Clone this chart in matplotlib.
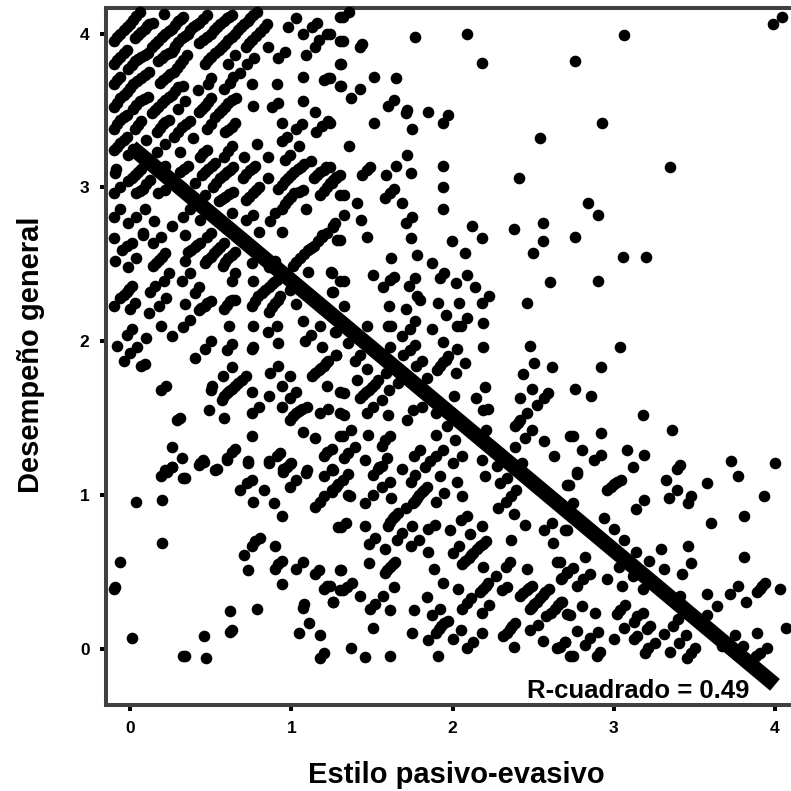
import matplotlib
matplotlib.use("Agg")
import matplotlib.pyplot as plt

pts_top_left = [(-.10,3.95),(-.06,4.00),(-.02,4.04),(.02,4.09),(.06,4.14),(-.10,3.80),(-.06,3.85),(-.02,3.89),(.03,3.97),(.07,4.01),(.105,4.05),(.14,4.07),(.21,4.13),
(-.10,3.67),(-.06,3.72),(-.01,3.77),(.03,3.82),(.07,3.85),(.11,3.87),(.135,3.91),(.175,3.95),(.22,4.00),(.26,4.03),(.30,4.08),(.33,4.11),
(.175,3.82),(.22,3.86),(.26,3.88),(.28,3.92),(.32,3.97),(.36,4.00),(.39,4.04),(.43,4.07),(.475,4.12),
(.43,3.94),(.475,3.98),(.52,4.02),(.56,4.06),(.60,4.10),(.63,4.12),
(.465,3.80),(.505,3.85),(.55,3.89),(.59,3.93),(.63,3.98),(.67,4.02),(.71,4.06),(.745,4.10),(.785,4.14),
(.72,3.91),(.755,3.96),(.806,4.01),(.85,4.06),(.855,3.91),(.92,3.84),(.96,3.88),(.98,4.04),(1.03,4.10),(1.07,4.00),(1.13,4.04),(1.16,4.07),(1.22,4.00),(1.15,3.91),(1.17,3.96),(1.09,3.86),(1.30,4.11),(1.30,3.95),
(.605,3.80),(.65,3.86),(.725,3.80),(.77,3.84),
(-.10,3.52),(-.06,3.58),(-.02,3.62),(.02,3.67),(.07,3.71),(.12,3.75),
(.186,3.68),(.227,3.72),(.27,3.75),(.31,3.80),(.355,3.86),(.33,3.66),
(.135,3.48),(.175,3.52),(.22,3.57),(.26,3.60),(.30,3.65),(.02,3.51),(.06,3.56),(.11,3.59),
(.42,3.63),(.485,3.67),(.505,3.71),(.58,3.64),(.62,3.68),(.64,3.72),(.68,3.74),(.755,3.67),(.91,3.67),(1.075,3.72),(1.20,3.70),(1.23,3.71),(1.30,3.66),(1.30,3.80),
(.30,3.51),(.34,3.56),(.425,3.49),(.465,3.53),(.505,3.58),(.53,3.46),(.57,3.50),(.61,3.55),(.66,3.58),
(.76,3.53),(.88,3.52),(.92,3.55),(1.07,3.56),(1.15,3.49),
(-.10,3.38),(-.06,3.44),(-.02,3.47),(.03,3.38),(.07,3.43),(.165,3.36),(.205,3.41),(.24,3.44),(.27,3.33),(.32,3.39),(.37,3.43),
(.475,3.38),(.505,3.41),(.59,3.36),(.63,3.39),(.65,3.42),(.94,3.42),(1.03,3.38),(1.065,3.41),(1.155,3.36),(1.19,3.40),(1.225,3.43),
(-.10,3.24),(-.06,3.29),(-.02,3.33),(.10,3.31),(-.01,3.21),(.02,3.25),(.22,3.28),(.39,3.32),(.31,3.23),(.435,3.20),(.475,3.24),(.58,3.20),(.63,3.27),(.71,3.20),(.79,3.28),(.855,3.20),
(.945,3.30),(.975,3.33),(1.05,3.27),(.96,3.18),(.995,3.21),(1.12,3.17),
(-.095,3.09),(-.085,3.12),(-.01,3.04),(.03,3.08),(.07,3.12),(.165,3.23),(.22,3.14),(.31,3.10),(.36,3.14),(.445,3.08),(.485,3.12),(.53,3.16),
(.515,3.00),(.56,3.06),(.60,3.10),(.64,3.13),(.70,3.06),(.745,3.11),(.775,3.14),(.855,3.06),
(.92,2.99),(.96,3.04),(1.00,3.08),(1.04,3.12),(1.08,3.15),(1.14,3.06),(1.18,3.10),(1.215,3.13),(1.18,2.95),(1.22,3.00),(1.26,3.05),(1.30,3.08),(1.30,2.95),
(-.10,2.96),(-.06,3.00),(.04,2.96),(.08,2.99),(.125,3.05),(.175,2.96),(.22,2.98),(.40,3.03),(.465,2.95),(.55,2.91),(.59,2.94),(.64,2.97),(.72,2.92),(.765,2.96),(.80,3.00),
(.94,2.86),(.98,2.92),(1.02,2.96),(1.07,2.98),(1.09,2.86),(-.10,2.81),(-.06,2.86),(.04,2.81),(.09,2.86),(-.01,2.77),(.15,2.78),(.26,2.75),(.33,2.81),(.435,2.79),(.37,2.86),
(.63,2.83),(.72,2.79),(.76,2.82),(.87,2.78),(.90,2.83),(.80,2.71),(.94,2.71),(.08,2.70),(1.19,2.69),(1.26,2.75),(1.22,2.70)]

pts_top_left_runs = [(-.08,3.975),(-.04,4.02),(0,4.065),(.04,4.115),(-.08,3.825),(-.04,3.87),(.05,3.99),(.09,4.03),(.12,4.06),(-.08,3.695),(.01,3.795),(.05,3.835),(.09,3.86),(.155,3.93),(.2,3.975),(.24,4.015),(.28,4.055),(.315,4.095),
(.2,3.84),(.24,3.87),(.27,3.90),(.30,3.945),(.34,3.985),(.375,4.02),(.41,4.055),(.45,4.095),(.45,3.96),(.5,4.0),(.54,4.04),(.58,4.08),(.615,4.11),
(.485,3.825),(.53,3.87),(.57,3.91),(.61,3.955),(.65,4.0),(.69,4.04),(.73,4.08),(.765,4.12),(.74,3.935),(.78,3.985),(.83,4.035),
(-.08,3.55),(-.04,3.60),(0,3.645),(.045,3.69),(.095,3.73),(.205,3.70),(.25,3.735),(.29,3.775),(.33,3.83),(.155,3.50),(.2,3.545),(.24,3.585),(.28,3.625),(.04,3.535),(.085,3.575),
(.445,3.51),(.485,3.555),(.55,3.48),(.59,3.525),(.635,3.565),(-.08,3.41),(-.04,3.455),(.05,3.405),(.185,3.385),(.22,3.425),(.295,3.36),(.345,3.41),(.61,3.375),
(-.08,3.265),(-.04,3.31),(.455,3.22),(.605,3.235),(.01,3.06),(.05,3.10),(.335,3.12),(.465,3.10),(.51,3.14),(.535,3.03),(.58,3.08),(.62,3.115),(.72,3.085),(.76,3.125),(.94,3.015),(.98,3.06),(1.02,3.10),(1.06,3.135),(1.16,3.08),(1.2,3.115),(1.2,2.975),(1.24,3.025),(1.28,3.065),
(.06,2.975),(.1,3.02),(.57,2.925),(.615,2.955),(.74,2.94),(.78,2.98),(.96,2.89),(1.0,2.94),(1.045,2.97)]

pts_mid_left = [(-.10,2.67),(.08,2.69),(.19,2.68),(.145,2.64),(.34,2.69),(-.05,2.59),(-.02,2.62),(.015,2.64),(-.09,2.52),(-.01,2.48),(.04,2.54),(.145,2.49),(.18,2.53),(.22,2.57),
(.34,2.52),(.36,2.58),(.40,2.61),(.435,2.64),(.475,2.68),(.505,2.70),(.465,2.51),(.50,2.55),(.54,2.59),(.58,2.64),(.575,2.49),(.61,2.54),(.65,2.58),(.755,2.51),
(.86,2.48),(.90,2.52),(1.01,2.49),(1.055,2.54),(1.105,2.59),(1.14,2.62),(1.19,2.68),(1.105,2.45),(1.245,2.45),(1.285,2.66),(1.255,2.32),(1.30,2.39),
(.21,2.39),(.24,2.44),(.325,2.39),(.37,2.44),(.63,2.39),(.65,2.44),(.765,2.39),(.755,2.23),(.795,2.29),(.84,2.33),(.88,2.37),(.91,2.40),(.99,2.33),
(.125,2.32),(.155,2.36),(-.06,2.28),(-.02,2.32),(.01,2.36),(-.10,2.23),(0,2.21),(.03,2.25),(.40,2.31),(.43,2.35),(.18,2.23),(.225,2.28),(.12,2.18),(.34,2.24),(.425,2.20),(.465,2.23),(.50,2.26),
(.58,2.21),(.62,2.26),(.65,2.27),(.86,2.19),(.90,2.25),(.93,2.29),(1.03,2.24),(.37,2.14),(.33,2.09),(.19,2.10),(.26,2.03),(.615,2.10),(.76,2.10),(.91,2.10),(.855,2.06),(1.07,2.13),(1.18,2.10),(1.28,2.06),
(-.02,2.04),(.01,2.08),(.10,2.02),(-.08,1.97),(.045,1.96),(0,1.92),(-.035,1.87),(.07,1.84),(.09,1.85),(.40,1.89),(.465,1.95),(.505,2.00),(.60,1.94),(.63,1.98),(.755,1.95),(.765,1.96),(.92,1.99),(1.085,2.00),(1.12,2.04),(1.19,1.96),(1.28,1.91),
(.63,1.83),(.575,1.77),(.72,1.77),(.67,1.73),(.63,1.69),(.60,1.66),(.57,1.62),(.50,1.68),(.51,1.71),(.195,1.68),(.225,1.71),(.87,1.79),(.92,1.84),(.995,1.77),(.94,1.71),(1.13,1.77),(1.17,1.81),(1.20,1.84),(1.23,1.87),(1.22,1.71),(.755,1.67),(.865,1.64),
(.99,1.63),(1.03,1.67),(1.30,1.67),(.945,1.57),(.80,1.57),(.755,1.53),(.49,1.55),(.58,1.50),(.29,1.49),(.31,1.50),(.995,1.49),(1.03,1.53),(1.065,1.56),(1.095,1.57),(1.18,1.53),(1.23,1.56),(1.30,1.53),
(1.07,1.41),(1.15,1.37),(1.30,1.38),(.755,1.38),(.26,1.31),(.325,1.24),(.63,1.28),(.60,1.24),(.65,1.30),(.93,1.27),(.91,1.25),(.865,1.22),(.73,1.22),(1.22,1.28),(1.20,1.25),(.435,1.21),(.455,1.23),(.54,1.17),(.99,1.20),(.95,1.17),(.26,1.18),(.22,1.16),(1.10,1.16),(1.25,1.17)]

pts_mid_left_runs = [(.48,2.53),(.52,2.57),(.56,2.615),(.59,2.515),(.63,2.56),(.775,2.26),(.82,2.31),(.86,2.35),(.895,2.385),(.88,2.22),(.915,2.27),(-.04,2.30),(-.005,2.34),(.38,2.595),(.415,2.625),(.16,2.51),(.2,2.55),(.44,2.215),(.48,2.245),(.6,2.235),(.635,2.265),(1.03,2.515),(1.08,2.565),(1.12,2.605),(1.165,2.65),
(.695,1.75),(.65,1.71),(.615,1.675),(.585,1.64),(1.15,1.79),(1.185,1.825),(1.215,1.855),(1.01,1.51),(1.05,1.545)]

pts_low_left = [(.195,1.12),(.23,1.15),(.26,1.18),(.33,1.11),(.34,1.11),(.43,1.195),(.46,1.215),(.53,1.165),(.73,1.21),(.865,1.21),(.60,1.23),(.95,1.15),(.975,1.18),(1.00,1.205),(1.09,1.145),(1.20,1.12),(1.25,1.16),
(.68,1.03),(.725,1.075),(.755,1.10),(.83,1.03),(.99,1.05),(1.03,1.10),(.76,.955),(.895,.945),(.94,.86),(1.15,.92),(1.18,.955),(1.20,.99),(1.25,1.03),(1.29,1.07),
(.04,.955),(.20,.97),(.20,.685),(-.06,.565),(-.10,.385),(-.09,.40),(.01,.07),(.33,-.045),(.34,-.045),(.47,-.06),(.46,.085),(.62,.11),(.63,.12),(.62,.245),(.785,.26),
(.71,.61),(.755,.665),(.775,.70),(.805,.72),(.90,.67),(.73,.51),(.90,.52),(.92,.55),(.945,.57),(1.03,.52),(1.07,.565),(1.15,.485),(1.17,.51),(.94,.42),(1.20,.39),(1.22,.41),(1.26,.305),(1.07,.265),(1.08,.29),(1.11,.165),(1.045,.105),(1.18,.09),(1.18,-.06),(1.205,-.025),(1.30,.51),(1.30,.38),(1.29,.79)]

pts_top_mid = [(1.32,4.11),(1.36,4.14),(1.24,4.00),(1.32,3.95),(1.425,3.91),(1.44,3.93),(1.77,3.98),(2.09,4.00),(2.18,3.81),(1.31,3.80),(1.24,3.71),(1.31,3.66),(1.515,3.72),(1.65,3.71),(1.425,3.64),(1.37,3.58),(1.60,3.53),(1.64,3.57),(1.71,3.48),(1.72,3.50),(1.85,3.49),(1.94,3.42),(1.975,3.47),(1.75,3.38),(1.515,3.42),(1.24,3.42),
(2.54,3.32),(1.36,3.27),(1.72,3.21),(1.65,3.14),(1.94,3.14),(1.436,3.08),(1.467,3.11),(1.49,3.13),(1.587,3.08),(1.74,3.09),(2.41,3.06),(1.94,3.00),(1.25,3.03),(1.28,3.06),(1.24,3.13),
(1.58,2.93),(1.61,2.96),(1.64,2.99),(1.325,2.95),(1.405,2.90),(1.685,2.90),(1.94,2.86),(1.33,2.82),(1.435,2.79),(1.71,2.77),(1.75,2.81),(1.26,2.74),(1.27,2.77),(2.12,2.75),(2.38,2.73),(2.56,2.77),(1.30,2.66),(1.47,2.68),(1.74,2.67),(1.995,2.65),(2.18,2.67),(2.56,2.65)]

pts_mid_centre = [(2.50,2.575),(2.08,2.575),(1.62,2.54),(1.78,2.56),(1.875,2.51),(1.255,2.44),(1.325,2.39),(1.505,2.43),(1.57,2.35),(1.61,2.40),(1.64,2.42),(1.73,2.36),(1.77,2.41),(1.92,2.41),(1.95,2.44),(2.09,2.43),(2.02,2.375),(2.14,2.35),(2.605,2.385),(1.26,2.32),(1.78,2.29),(1.80,2.27),(2.225,2.29),(2.18,2.245),(1.91,2.245),(2.04,2.245),(2.46,2.245),(1.605,2.23),(1.71,2.21),(1.33,2.23),
(1.96,2.17),(2.09,2.15),(2.025,2.10),(2.05,2.10),(2.19,2.115),(1.735,2.08),(1.77,2.13),(1.60,2.10),(1.62,2.10),(1.47,2.10),(1.875,2.08),(1.27,2.06),(1.685,2.03),(1.94,1.995),(1.35,1.985),(1.615,1.96),(2.19,1.96),(2.48,1.97),(2.03,1.95),(1.77,1.975),(1.735,1.94),(1.695,1.91),(1.28,1.91),(1.395,1.87),(1.425,1.91),
(1.975,1.90),(1.94,1.865),(1.905,1.815),(1.775,1.84),(1.81,1.87),(2.08,1.855),(2.505,1.855),(2.615,1.83),(1.47,1.82),(2.02,1.795),(2.435,1.785),(1.59,1.795),(1.405,1.745),(1.54,1.745),(1.50,1.70),(1.465,1.67),(1.425,1.63),(1.605,1.68),(1.665,1.725),(1.84,1.76),(2.20,1.70),(2.49,1.69),(2.595,1.66),(2.565,1.63),(1.325,1.665),(2.145,1.63),(2.01,1.64),(2.42,1.63),(1.56,1.62),(2.525,1.585),
(2.22,1.56),(2.19,1.55),(1.51,1.57),(1.47,1.53),(1.60,1.52),(1.33,1.52),(1.81,1.57),(1.755,1.55),(1.715,1.49),(1.90,1.53),(2.46,1.53),(2.42,1.49),(2.39,1.45),(1.965,1.45),(2.49,1.42),(2.45,1.37),(2.21,1.42),(1.37,1.42),(1.32,1.38),(1.475,1.39),(1.61,1.38),(1.58,1.36),(1.56,1.32),(1.90,1.39),(2.015,1.36),(2.57,1.35),(2.39,1.31),(1.395,1.31),(1.35,1.27),(1.33,1.24),(1.25,1.30),(2.63,1.25),(1.46,1.23),(1.80,1.29),(1.76,1.25),(1.94,1.29),(1.90,1.25),(1.86,1.22),(1.595,1.24),(2.06,1.25),(2.00,1.21),(2.18,1.23),(1.545,1.18),(1.685,1.17),(1.83,1.18),(2.275,1.19),(2.43,1.21),(2.73,1.38)]

pts_low_centre = [(1.26,1.16),(1.355,1.135),(1.32,1.10),(1.28,1.05),(1.25,1.02),(1.51,1.13),(1.54,1.17),(1.56,1.19),(1.77,1.13),(1.745,1.085),(1.92,1.12),(2.03,1.085),(2.20,1.12),(1.61,1.085),(1.56,1.05),(1.51,1.00),(1.355,1.0),(1.365,.99),(1.46,.945),(1.62,.98),(1.84,1.05),(1.81,1.02),(1.78,.98),(1.755,.945),(1.95,1.015),(1.90,.955),(2.06,.99),(1.71,.917),(2.295,1.075),(2.335,1.11),(2.395,1.03),(2.365,.99),(2.33,.955),(2.28,.917),(2.38,.875),(2.45,.805),(2.615,.82),(2.57,.77),(2.70,.77),(2.71,1.065),
(1.665,.88),(1.63,.85),(1.60,.80),(1.455,.80),(1.31,.79),(1.34,.82),(1.75,.80),(1.89,.805),(1.85,.78),(2.09,.86),(2.055,.84),(2.18,.80),(1.985,.77),(2.11,.745),(1.685,.75),(1.655,.71),(1.79,.71),(1.745,.67),(1.52,.72),(1.48,.68),(1.58,.65),(2.365,.71),(2.625,.685),(2.21,.70),(2.17,.665),(2.13,.625),(2.10,.59),(2.06,.55),(2.04,.67),(2.00,.625),(1.85,.63),(1.645,.565),(1.61,.53),(1.58,.495),(1.48,.555),(1.31,.51),(1.885,.52),(2.19,.53),(2.355,.565),(2.33,.53),(2.46,.52),(2.65,.565),(2.71,.50),(2.67,.45),(2.27,.47),
(1.375,.43),(1.345,.40),(1.32,.38),(1.24,.41),(1.64,.40),(1.94,.425),(2.22,.425),(2.19,.39),(2.17,.37),(2.035,.385),(2.335,.40),(2.31,.38),(2.49,.41),(2.46,.38),(2.42,.34),(2.60,.39),(2.56,.35),(2.525,.305),(2.49,.27),(1.26,.305),(1.425,.34),(1.57,.34),(1.84,.335),(1.52,.29),(1.49,.26),(2.115,.33),(2.09,.295),(2.06,.26),(2.225,.285),(2.18,.235),(1.615,.25),(1.76,.25),(1.92,.26),(1.875,.22),(2.675,.305),(2.635,.26),(2.58,.21),(2.48,.26),(2.71,.225),
(1.975,.18),(1.93,.15),(1.90,.10),(1.505,.135),(2.05,.12),(2.39,.165),(2.355,.13),(2.315,.08),(2.53,.155),(2.48,.12),(1.75,.105),(2.18,.105),(1.85,.057),(2.0,.06),(2.56,.05),(2.13,.046),(2.09,.003),(2.38,.013),(1.37,.003),(1.457,-.056),(1.615,-.045),(1.91,-.045),(2.70,.046),(2.645,.003),(2.73,-.045)]

pts_centre_runs = [(1.52,1.72),(1.48,1.685),(1.445,1.65),(1.96,1.88),(1.925,1.84),(2.405,1.47),(1.825,1.035),(1.795,1.0),(1.77,.96),(1.645,.865),(1.615,.825),(2.19,.68),(2.15,.645),(2.115,.61),(2.08,.57),(1.63,.55),(1.595,.51),(2.575,.37),(2.54,.33),(2.505,.29),(2.655,.285),(2.61,.235),(2.44,.36),(2.475,.395),(2.205,.41),(1.95,.165),(1.915,.125),(2.37,.15),(2.335,.105)]

pts_top_right = [(3.066,3.99),(2.76,3.82),(4.044,4.11),(3.99,4.06),(2.93,3.42),(3.35,3.13),(2.84,2.90),(2.90,2.82),(2.76,2.68)]

pts_mid_right = [(3.055,2.55),(3.20,2.55),(2.90,2.39),(3.04,1.96),(2.92,1.83),(2.76,1.69),(2.86,1.64),(3.18,1.52),(2.75,1.38),(2.92,1.40),(3.36,1.42),(2.80,1.29),(2.92,1.26),(2.875,1.23),(3.08,1.29),(3.19,1.26),(3.12,1.18),(3.41,1.195),(3.39,1.17),(3.73,1.22),(4.0,1.205),(2.77,1.15)]

pts_low_right = [(2.775,1.135),(2.72,1.065),(3.045,1.10),(3.022,1.085),(3.0,1.07),(2.98,1.05),(2.96,1.03),(3.325,1.10),(3.77,1.12),(3.58,1.075),(3.39,1.03),(3.345,.98),(3.48,.99),(3.46,.945),(3.93,.99),(3.185,.97),(3.14,.91),(2.75,.945),(2.94,.85),(3.0,.78),(3.81,.86),(3.605,.815),(2.71,.77),(3.065,.71),(3.46,.67),(3.29,.65),(3.135,.63),(3.81,.595),(2.82,.595),(3.22,.57),(3.48,.555),(2.75,.525),(2.71,.495),(2.68,.46),(3.31,.52),(3.03,.53),(2.667,.565),(2.85,.485),(2.81,.455),(2.775,.41),(3.425,.485),(2.96,.45),(3.05,.41),(3.12,.47),(3.18,.39),(3.77,.41),(3.94,.425),(3.92,.41),(3.91,.39),(3.89,.37),(4.03,.39),(3.72,.354),(3.58,.354),(3.41,.34),(3.82,.306),(3.64,.28),(2.677,.306),(2.80,.28),(3.07,.285),(3.04,.25),(3.02,.225),(2.73,.22),(2.885,.235),(3.18,.235),(3.145,.21),(3.125,.175),(3.58,.22),(3.40,.19),(3.37,.145),(3.065,.135),(3.225,.145),(3.205,.13),(2.775,.118),(2.90,.106),(3.31,.094),(4.07,.133),(3.75,.09),(3.89,.105),(3.145,.08),(3.125,.06),(3.45,.09),(3.0,.06),(2.85,.07),(2.82,.025),(2.70,.046),(2.667,.013),(3.256,.04),(3.215,.003),(3.195,-.03),(3.405,.035),(3.80,.018),(3.95,.003),(3.905,-.03),(3.885,-.05),(3.67,.018),(3.505,.003),(3.477,-.03),(3.457,-.06),(3.35,-.023),(2.915,-.023),(2.895,-.05),(2.75,-.045)]

fit_x = [0.01, 4.0]
fit_y = [3.26, -0.235]
x_ticks = [0, 1, 2, 3, 4]
y_ticks = [0, 1, 2, 3, 4]
x_label = "Estilo pasivo-evasivo"
y_label = "Desempeño general"
note = "R-cuadrado = 0.49"

all_pts = (pts_top_left + pts_top_left_runs + pts_mid_left + pts_mid_left_runs + pts_low_left +
           pts_top_mid + pts_mid_centre + pts_low_centre + pts_centre_runs +
           pts_top_right + pts_mid_right + pts_low_right)
xs = [p[0] for p in all_pts]
ys = [p[1] for p in all_pts]

plt.rcParams['font.family'] = ['Liberation Sans', 'DejaVu Sans']
W = 791
fig = plt.figure(figsize=(W / 100, W / 100), dpi=100)
L, R, T, B = 105.5, 800.0, 8.0, 705.0
ax = fig.add_axes([L / W, (W - B) / W, (R - L) / W, (B - T) / W])
ax.set_xlim((L - 130) / 161.25, (R - 130) / 161.25)
ax.set_ylim((648.7 - B) / 153.8, (648.7 - T) / 153.8)

ax.scatter(xs, ys, s=70, c='black', linewidths=0, clip_on=False, zorder=3)
ax.plot(fit_x, fit_y, color='black', lw=11, solid_capstyle='butt', zorder=4)

for s in ax.spines.values():
    s.set_linewidth(2.9)
    s.set_color('#404040')
ax.set_xticks(x_ticks)
ax.set_yticks(y_ticks)
ax.tick_params(axis='both', length=4.5, width=2.9, color='black', labelsize=12.5, pad=7)
for lab in ax.get_xticklabels() + ax.get_yticklabels():
    lab.set_fontweight('bold')

fig.text(638 / W, 1 - 691 / W, note, fontsize=18.5, fontweight='bold', ha='center', va='center', zorder=6)
fig.text(456 / W, 1 - 775 / W, x_label, fontsize=21, fontweight='bold', ha='center', va='center')
fig.text(31 / W, 1 - 355 / W, y_label, fontsize=21, fontweight='bold', ha='center', va='center', rotation=90)

fig.savefig('out.png', dpi=100, facecolor='white')
